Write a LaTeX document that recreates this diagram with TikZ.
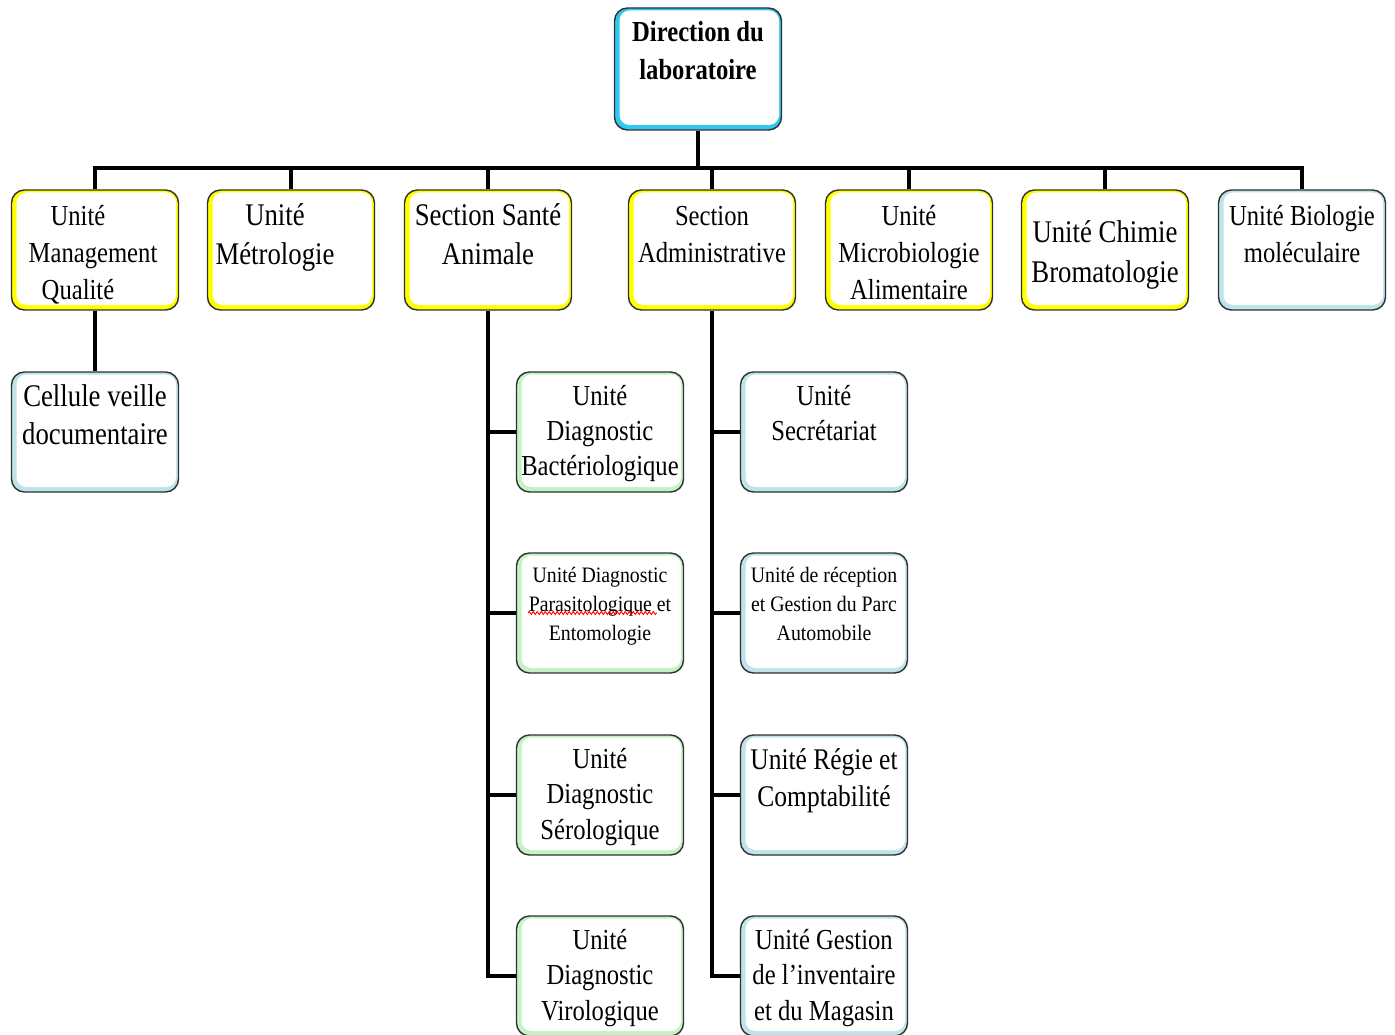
\documentclass[tikz,border=0pt]{standalone}
\usepackage{fontspec}
\setmainfont{Liberation Serif}[FakeStretch=0.85]
\newfontfamily\smallf{Liberation Serif}[FakeStretch=0.9]
\usetikzlibrary{decorations.pathmorphing}
\definecolor{ybord}{HTML}{FFFF00}
\definecolor{cbord}{HTML}{2EC8F0}
\definecolor{lbord}{HTML}{BFE3EA}
\definecolor{gbord}{HTML}{C4F2C4}
\definecolor{outl}{HTML}{303030}
\newcommand\fsz[2]{\fontsize{#1}{#2}\selectfont}
\tikzset{
 orgbox/.style={draw=outl, line width=1.4pt, rounded corners=13pt,
   minimum width=167pt, minimum height=120pt, inner sep=0pt, fill=#1,
   path picture={\fill[white, rounded corners=10pt]
     ([xshift=5pt,yshift=5pt]path picture bounding box.south west) rectangle
     ([xshift=-2.5pt,yshift=-2.5pt]path picture bounding box.north east);}},
 txt/.style={anchor=north, align=center, inner sep=0pt, text=black},
 big/.style={font=\fsz{29}{37}},
 bigger/.style={font=\fsz{31.5}{39}},
 small/.style={font=\smallf\fsz{22}{29}},
 link/.style={line width=3.5pt, black, line join=miter},
}
\begin{document}
\begin{tikzpicture}[x=1pt,y=-1pt]
\useasboundingbox (0,0) rectangle (1395,1035);
% top
\node[orgbox=cbord, minimum height=122pt] (dir) at (698,69) {};
\node[txt, font=\bfseries\fsz{29}{38}] (dir-t) at ([yshift=-7pt]dir.north) {\strut Direction du\\laboratoire};
% row 1
\node[orgbox=ybord] (mq) at (95,250) {};
\node[orgbox=ybord] (met) at (291,250) {};
\node[orgbox=ybord] (ssa) at (488,250) {};
\node[orgbox=ybord] (sad) at (712,250) {};
\node[orgbox=ybord] (mic) at (909,250) {};
\node[orgbox=ybord] (chi) at (1105,250) {};
\node[orgbox=lbord] (bio) at (1302,250) {};
\node[txt,big] (mq-t) at ([xshift=-2pt,yshift=-10pt]mq.north) {\strut Unit\'e\hspace*{30pt}\\Management\\Qualit\'e\hspace*{30pt}};
\node[txt,bigger] (met-t) at ([xshift=-16pt,yshift=-9pt]met.north) {\strut Unit\'e\\M\'etrologie};
\node[txt,bigger] (ssa-t) at ([yshift=-9pt]ssa.north) {\strut Section Sant\'e\\Animale};
\node[txt,big] (sad-t) at ([yshift=-10pt]sad.north) {\strut Section\\Administrative};
\node[txt,big] (mic-t) at ([yshift=-10pt]mic.north) {\strut Unit\'e\\Microbiologie\\Alimentaire};
\node[txt,font=\fsz{31.5}{40}] (chi-t) at ([yshift=-25pt]chi.north) {\strut Unit\'e Chimie\\Bromatologie};
\node[txt,big] (bio-t) at ([yshift=-10pt]bio.north) {\strut Unit\'e Biologie\\mol\'eculaire};
% cellule
\node[orgbox=lbord] (cel) at (95,432) {};
\node[txt,font=\fsz{31.5}{38}] (cel-t) at ([yshift=-8pt]cel.north) {\strut Cellule veille\\documentaire};
% sante column
\node[orgbox=gbord] (bac) at (600,432) {};
\node[orgbox=gbord] (par) at (600,613) {};
\node[orgbox=gbord] (ser) at (600,795) {};
\node[orgbox=gbord] (vir) at (600,976) {};
\node[txt,font=\fsz{29}{35}] (bac-t) at ([yshift=-9pt]bac.north) {\strut Unit\'e\\Diagnostic\\Bact\'eriologique};
\node[txt,small] (par-t) at ([yshift=-10pt]par.north) {\strut Unit\'e Diagnostic\\Parasitologique et\\Entomologie};
\node[txt,font=\fsz{29}{35.5}] (ser-t) at ([yshift=-9pt]ser.north) {\strut Unit\'e\\Diagnostic\\S\'erologique};
\node[txt,font=\fsz{29}{35.5}] (vir-t) at ([yshift=-9pt]vir.north) {\strut Unit\'e\\Diagnostic\\Virologique};
\draw[red, line width=0.9pt, decorate, decoration={snake, amplitude=1.5pt, segment length=4pt}] (528,613) -- (657,613);
% admin column
\node[orgbox=lbord] (sec) at (824,432) {};
\node[orgbox=lbord] (rec) at (824,613) {};
\node[orgbox=lbord] (reg) at (824,795) {};
\node[orgbox=lbord] (ges) at (824,976) {};
\node[txt,font=\fsz{29}{35}] (sec-t) at ([yshift=-9pt]sec.north) {\strut Unit\'e\\Secr\'etariat};
\node[txt,small] (rec-t) at ([yshift=-10pt]rec.north) {\strut Unit\'e de r\'eception\\et Gestion du Parc\\Automobile};
\node[txt,font=\fsz{30}{37}] (reg-t) at ([yshift=-9pt]reg.north) {\strut Unit\'e R\'egie et\\Comptabilit\'e};
\node[txt,font=\fsz{29}{35.5}] (ges-t) at ([yshift=-9pt]ges.north) {\strut Unit\'e Gestion\\de l’inventaire\\et du Magasin};
% connectors
\coordinate (bus) at (698,168);
\draw[link] (dir.south) -- (bus);
\draw[link] (mq.north) -- (mq.north |- bus) -- (bio.north |- bus) -- (bio.north);
\foreach \n in {met,ssa,sad,mic,chi} \draw[link] (\n.north) -- (\n.north |- bus);
\draw[link] (mq.south) -- (cel.north);
\draw[link] (ssa.south) -- (ssa.south |- vir.west) -- (vir.west);
\foreach \n in {bac,par,ser} \draw[link] (\n.west) -- (\n.west -| ssa.south);
\draw[link] (sad.south) -- (sad.south |- ges.west) -- (ges.west);
\foreach \n in {sec,rec,reg} \draw[link] (\n.west) -- (\n.west -| sad.south);
\end{tikzpicture}
\end{document}
